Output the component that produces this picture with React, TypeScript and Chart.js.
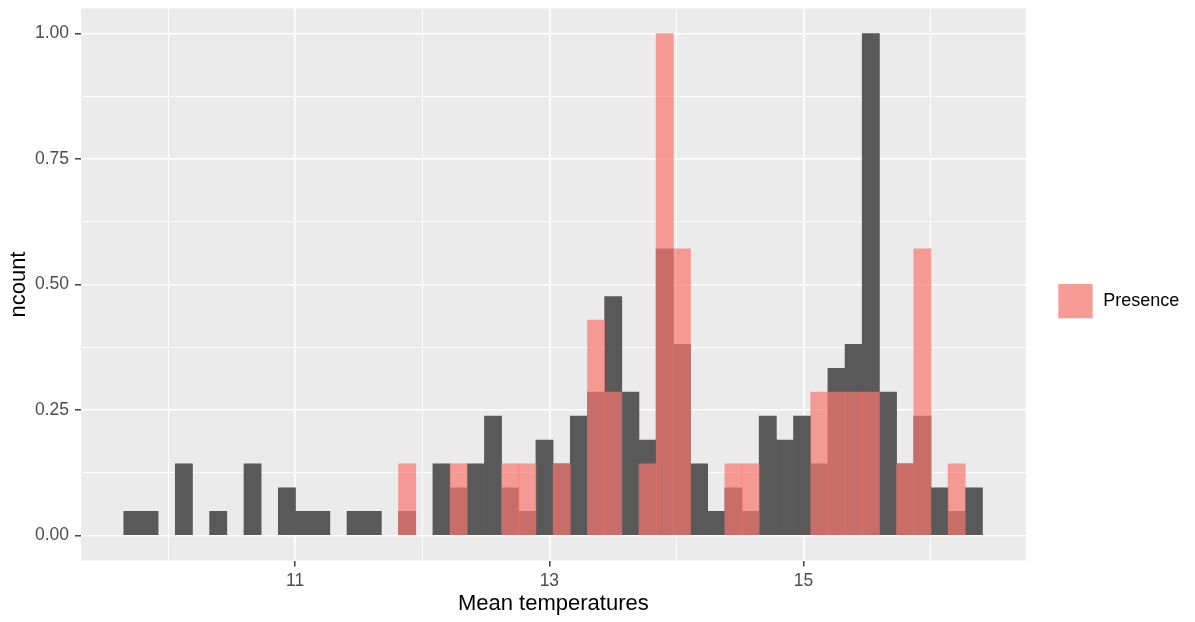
import React, { useEffect, useRef } from "react";
import { Chart, registerables } from "chart.js";

Chart.register(...registerables);

// Histogram bin centres (Mean temperatures)
const binCenters = [
  9.7196, 9.8547, 9.9898, 10.1249, 10.26, 10.3951, 10.5302, 10.6653, 10.8004, 10.9355,
  11.0706, 11.2057, 11.3408, 11.4759, 11.611, 11.7461, 11.8812, 12.0163, 12.1514, 12.2865,
  12.4216, 12.5567, 12.6918, 12.8269, 12.962, 13.0971, 13.2322, 13.3673, 13.5024, 13.6375,
  13.7726, 13.9077, 14.0428, 14.1779, 14.313, 14.4481, 14.5832, 14.7183, 14.8534, 14.9885,
  15.1236, 15.2587, 15.3938, 15.5289, 15.664, 15.7991, 15.9342, 16.0693, 16.2044, 16.3395,
];

// ncount of all records (dark grey bars)
const allValues = [
  0.048, 0.048, 0, 0.143, 0, 0.048, 0, 0.143, 0, 0.095,
  0.048, 0.048, 0, 0.048, 0.048, 0, 0.048, 0, 0.143, 0.095,
  0.143, 0.238, 0.095, 0.048, 0.19, 0.143, 0.238, 0.286, 0.476, 0.286,
  0.19, 0.571, 0.381, 0.143, 0.048, 0.095, 0.048, 0.238, 0.19, 0.238,
  0.143, 0.333, 0.381, 1.0, 0.286, 0.143, 0.238, 0.095, 0.048, 0.095,
];

// ncount of presence records (red bars)
const presenceValues = [
  0, 0, 0, 0, 0, 0, 0, 0, 0, 0,
  0, 0, 0, 0, 0, 0, 0.143, 0, 0, 0.143,
  0, 0, 0.143, 0.143, 0, 0.143, 0, 0.429, 0.286, 0,
  0.143, 1.0, 0.571, 0, 0, 0.143, 0.143, 0, 0, 0,
  0.286, 0.286, 0.286, 0.286, 0, 0.143, 0.571, 0, 0.143, 0,
];

const xTickValues = [10, 11, 12, 13, 14, 15, 16];
const xTickLabels = ["", "11", "", "13", "", "15", ""];
const yTickValues = [0, 0.125, 0.25, 0.375, 0.5, 0.625, 0.75, 0.875, 1];
const yTickLabels = ["0.00", "", "0.25", "", "0.50", "", "0.75", "", "1.00"];

const legendLabel = "Presence";
const xTitle = "Mean temperatures";
const yTitle = "ncount";

const FONT = "'Liberation Sans', Arial, Helvetica, sans-serif";
const W = 1195;
const H = 622;

const panelBg = {
  id: "panelBg",
  beforeDraw(chart: any) {
    const { ctx, chartArea } = chart;
    const { left, top, right, bottom } = chartArea;
    ctx.save();
    ctx.fillStyle = "#FFFFFF";
    ctx.fillRect(0, 0, chart.width, chart.height);
    ctx.fillStyle = "#EBEBEB";
    ctx.fillRect(left, top, right - left, bottom - top);
    ctx.restore();
  },
};

const ggLegend = {
  id: "ggLegend",
  afterDraw(chart: any) {
    const { ctx } = chart;
    ctx.save();
    const kx = 1058.3;
    const ky = 284;
    const ks = 34.3;
    ctx.fillStyle = "#F2F2F2";
    ctx.fillRect(kx, ky, ks, ks);
    ctx.fillStyle = "rgba(248,118,109,0.7)";
    ctx.fillRect(kx, ky, ks, ks);
    ctx.fillStyle = "#000000";
    ctx.font = `18px ${FONT}`;
    ctx.textBaseline = "middle";
    ctx.textAlign = "left";
    ctx.fillText(legendLabel, 1103.3, ky + ks / 2);
    ctx.restore();
  },
};

const toPoints = (vals: number[]) =>
  vals.map((y, i) => ({ x: binCenters[i], y: y === 0 ? null : y }));

export default function App() {
  const canvasRef = useRef<HTMLCanvasElement | null>(null);

  useEffect(() => {
    const canvas = canvasRef.current;
    if (!canvas) return;
    const chart = new Chart(canvas, {
      type: "bar",
      data: {
        datasets: [
          {
            label: legendLabel,
            data: toPoints(presenceValues),
            backgroundColor: "rgba(248,118,109,0.7)",
            borderWidth: 0,
            barPercentage: 1,
            categoryPercentage: 1,
            grouped: false,
            order: 0,
          } as any,
          {
            label: "All",
            data: toPoints(allValues),
            backgroundColor: "#595959",
            borderWidth: 0,
            barPercentage: 1,
            categoryPercentage: 1,
            grouped: false,
            order: 1,
          } as any,
        ],
      },
      options: {
        responsive: false,
        animation: false,
        devicePixelRatio: 1,
        layout: { padding: { left: 0, top: 8.5, right: W - 1025.7, bottom: 0 } },
        plugins: {
          legend: { display: false },
          tooltip: { enabled: false },
        },
        scales: {
          x: {
            type: "linear",
            min: 9.3156,
            max: 16.7472,
            offset: false,
            afterFit: (scale: any) => {
              scale.height = H - 560.6;
              scale.paddingLeft = 0;
              scale.paddingRight = 0;
            },
            afterBuildTicks: (scale: any) => {
              scale.ticks = xTickValues.map((v) => ({ value: v }));
            },
            border: { display: false },
            grid: {
              offset: false,
              color: "#FFFFFF",
              lineWidth: (c: any) => (xTickLabels[c.index] ? 1.6 : 0.9),
              tickColor: (c: any) => (xTickLabels[c.index] ? "#333333" : "rgba(0,0,0,0)"),
              tickWidth: 1.4,
              tickLength: 6,
              drawTicks: true,
            },
            ticks: {
              autoSkip: false,
              maxRotation: 0,
              minRotation: 0,
              padding: 4,
              color: "#4D4D4D",
              font: { family: FONT, size: 17.5 },
              callback: (_v: any, i: number) => xTickLabels[i],
            },
            title: {
              display: true,
              text: xTitle,
              color: "#000000",
              font: { family: FONT, size: 22 },
              padding: { top: 0, bottom: 5 },
            },
          },
          y: {
            type: "linear",
            min: -0.05,
            max: 1.05,
            afterFit: (scale: any) => {
              scale.width = 81;
              scale.paddingTop = 0;
              scale.paddingBottom = 0;
            },
            afterBuildTicks: (scale: any) => {
              scale.ticks = yTickValues.map((v) => ({ value: v }));
            },
            border: { display: false },
            grid: {
              offset: false,
              color: "#FFFFFF",
              lineWidth: (c: any) => (yTickLabels[c.index] ? 1.6 : 0.9),
              tickColor: (c: any) => (yTickLabels[c.index] ? "#333333" : "rgba(0,0,0,0)"),
              tickWidth: 1.4,
              tickLength: 6,
              drawTicks: true,
            },
            ticks: {
              autoSkip: false,
              padding: 6,
              color: "#4D4D4D",
              font: { family: FONT, size: 17.5 },
              callback: (_v: any, i: number) => yTickLabels[i],
            },
            title: {
              display: true,
              text: yTitle,
              color: "#000000",
              font: { family: FONT, size: 22 },
              padding: { top: 6, bottom: 0 },
            },
          },
        },
      } as any,
      plugins: [panelBg, ggLegend],
    });
    return () => chart.destroy();
  }, []);

  return (
    <div style={{ position: "fixed", left: 0, top: 0, width: W, height: H, background: "#FFFFFF" }}>
      <canvas ref={canvasRef} width={W} height={H} style={{ display: "block", width: W, height: H }} />
    </div>
  );
}
